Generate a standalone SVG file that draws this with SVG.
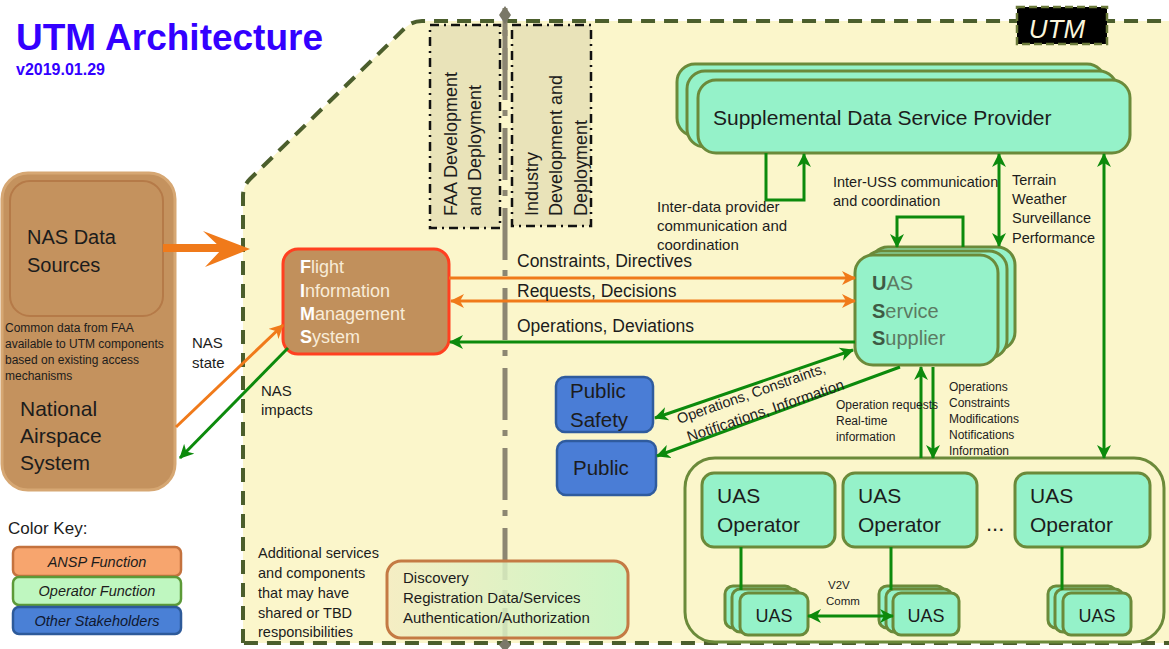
<svg xmlns="http://www.w3.org/2000/svg" width="1169" height="649" viewBox="0 0 1169 649">
<defs>
<style>
text { font-family: "Liberation Sans", Arial, sans-serif; fill: #1c1c1c; }
.g { stroke: #0c8a0c; stroke-width: 3; fill: none; }
.o { stroke: #f07a1a; stroke-width: 3; fill: none; }
.mint { fill: #95f2c9; stroke: #6b8a3a; stroke-width: 3; }
.blue { fill: #4a7dd6; stroke: #2f5b9e; stroke-width: 2.5; }
.col { fill: #e9e3b9; stroke: #111; stroke-width: 2.5; stroke-dasharray: 9 5 2 5; }
.key { font-style: italic; font-size: 14.5px; text-anchor: middle; }
.lbl { font-size: 15px; }
.sm { font-size: 12px; }
.big { font-size: 20px; }
</style>
<marker id="ag" viewBox="0 0 14 14" refX="13" refY="7" markerWidth="14" markerHeight="14" markerUnits="userSpaceOnUse" orient="auto-start-reverse"><path d="M0,0 L14,7 L0,14 L4,7 Z" fill="#0c8a0c"/></marker>
<marker id="ao" viewBox="0 0 14 14" refX="13" refY="7" markerWidth="14" markerHeight="14" markerUnits="userSpaceOnUse" orient="auto-start-reverse"><path d="M0,0 L14,7 L0,14 L4,7 Z" fill="#f07a1a"/></marker>
<linearGradient id="disc" x1="0" y1="0" x2="1" y2="0"><stop offset="0" stop-color="#f4ecc2"/><stop offset="1" stop-color="#c2f6c4"/></linearGradient>
</defs>
<rect x="0" y="0" width="1169" height="649" fill="#ffffff"/>

<g id="utm-region">
<path d="M243,643 L243,196 Q243,186 250,179 L406,27 Q413,21 422,21 L1185,21 L1185,643 Z" fill="#fbf6cb" stroke="#4b5e2c" stroke-width="4" stroke-dasharray="14 9"/>
</g>

<g id="title">
<text x="16" y="50" font-size="37" font-weight="bold" style="fill:#3300ff">UTM Architecture</text>
<text x="16" y="75" font-size="16" font-weight="bold" style="fill:#3300ff">v2019.01.29</text>
</g>

<g id="utm-label">
<rect x="1017" y="7" width="90" height="37" fill="#000" stroke="#6b7a3a" stroke-width="2.5" stroke-dasharray="8 4"/>
<text x="1057" y="38" font-size="26" font-style="italic" text-anchor="middle" style="fill:#fbf6dc">UTM</text>
</g>

<g id="faa-column">
<rect class="col" x="430" y="25" width="70" height="203"/>
<text transform="translate(457,216) rotate(-90)" font-size="18">FAA Development</text>
<text transform="translate(481,216) rotate(-90)" font-size="18">and Deployment</text>
</g>
<g id="industry-column">
<rect class="col" x="512" y="25" width="79" height="201"/>
<text transform="translate(538,216) rotate(-90)" font-size="18">Industry</text>
<text transform="translate(562,216) rotate(-90)" font-size="18">Development and</text>
<text transform="translate(587,216) rotate(-90)" font-size="18">Deployment</text>
</g>

<g id="divider">
<line x1="505" y1="8" x2="505" y2="649" stroke="#8c8672" stroke-width="5" stroke-dasharray="52 10 6 12" stroke-dashoffset="-40"/>
<line x1="505" y1="20" x2="505" y2="70" stroke="#8c8672" stroke-width="5"/>
<polygon points="505,6 511,15 505,24 499,15" fill="#7a7868"/>
<polygon points="505,638 511,645 505,652 499,645" fill="#7a7868"/>
</g>

<g id="nas">
<rect x="2" y="173" width="173" height="317" rx="26" fill="#c4925e" stroke="#d6a773" stroke-width="3"/>
<rect x="10" y="181" width="153" height="135" rx="20" fill="#c4925e" stroke="#b57a48" stroke-width="2"/>
<text x="27" y="244" class="big">NAS Data</text>
<text x="27" y="272" class="big">Sources</text>
<text x="5" y="332" class="sm">Common data from FAA</text>
<text x="5" y="348" class="sm">available to UTM components</text>
<text x="5" y="364" class="sm">based on existing access</text>
<text x="5" y="380" class="sm">mechanisms</text>
<text x="20" y="416" font-size="21">National</text>
<text x="20" y="443" font-size="21">Airspace</text>
<text x="20" y="470" font-size="21">System</text>
</g>

<g id="fims">
<rect x="283" y="249" width="166" height="105" rx="15" fill="#c1905c" stroke="#ff4020" stroke-width="3"/>
<text x="300" y="273" font-size="18" style="fill:#f8ecd8"><tspan font-weight="bold" style="fill:#fff">F</tspan>light</text>
<text x="300" y="297" font-size="18" style="fill:#f8ecd8"><tspan font-weight="bold" style="fill:#fff">I</tspan>nformation</text>
<text x="300" y="320" font-size="18" style="fill:#f8ecd8"><tspan font-weight="bold" style="fill:#fff">M</tspan>anagement</text>
<text x="300" y="343" font-size="18" style="fill:#f8ecd8"><tspan font-weight="bold" style="fill:#fff">S</tspan>ystem</text>
</g>

<g id="sdsp">
<rect class="mint" x="677" y="64" width="428" height="72" rx="18"/>
<rect class="mint" x="687" y="71" width="430" height="76" rx="18"/>
<rect class="mint" x="698" y="80" width="432" height="73" rx="18"/>
<text x="713" y="125" font-size="21">Supplemental Data Service Provider</text>
</g>

<g id="uss">
<rect class="mint" x="870" y="247" width="145" height="103" rx="18"/>
<rect class="mint" x="863" y="251" width="144" height="107" rx="18"/>
<rect class="mint" x="855" y="255" width="143" height="110" rx="18"/>
<text x="872" y="290" class="big" style="fill:#5c7a62"><tspan font-weight="bold" style="fill:#3e5a44">U</tspan>AS</text>
<text x="872" y="318" class="big" style="fill:#5c7a62"><tspan font-weight="bold" style="fill:#3e5a44">S</tspan>ervice</text>
<text x="872" y="345" class="big" style="fill:#5c7a62"><tspan font-weight="bold" style="fill:#3e5a44">S</tspan>upplier</text>
</g>

<g id="public-safety">
<rect class="blue" x="556" y="377" width="97" height="55" rx="9"/>
<text x="570" y="398" font-size="20.5">Public</text>
<text x="570" y="427" font-size="20.5">Safety</text>
</g>
<g id="public">
<rect class="blue" x="557" y="441" width="99" height="54" rx="9"/>
<text x="573" y="475" font-size="20.5">Public</text>
</g>

<g id="operators">
<rect x="685" y="458" width="479" height="184" rx="30" fill="none" stroke="#6b8a3a" stroke-width="3"/>
<g id="operator-1">
<rect class="mint" x="702" y="473" width="133" height="74" rx="12"/>
<text x="717" y="503" font-size="21">UAS</text>
<text x="717" y="532" font-size="21">Operator</text>
</g>
<g id="operator-2">
<rect class="mint" x="843" y="473" width="134" height="74" rx="12"/>
<text x="858" y="503" font-size="21">UAS</text>
<text x="858" y="532" font-size="21">Operator</text>
</g>
<text x="986" y="531" font-size="22">...</text>
<g id="operator-3">
<rect class="mint" x="1015" y="473" width="135" height="74" rx="12"/>
<text x="1030" y="503" font-size="21">UAS</text>
<text x="1030" y="532" font-size="21">Operator</text>
</g>
<g id="uas-1">
<rect class="mint" x="725" y="586" width="68" height="42" rx="8"/>
<rect class="mint" x="732" y="589" width="68" height="43" rx="8"/>
<rect class="mint" x="740" y="593" width="68" height="42" rx="8"/>
<text x="774" y="622" font-size="18" text-anchor="middle">UAS</text>
</g>
<g id="uas-2">
<rect class="mint" x="879" y="586" width="66" height="42" rx="8"/>
<rect class="mint" x="886" y="589" width="66" height="43" rx="8"/>
<rect class="mint" x="893" y="593" width="66" height="42" rx="8"/>
<text x="926" y="622" font-size="18" text-anchor="middle">UAS</text>
</g>
<g id="uas-3">
<rect class="mint" x="1048" y="586" width="68" height="42" rx="8"/>
<rect class="mint" x="1055" y="589" width="68" height="43" rx="8"/>
<rect class="mint" x="1063" y="593" width="68" height="42" rx="8"/>
<text x="1097" y="622" font-size="18" text-anchor="middle">UAS</text>
</g>
</g>

<g id="shared-services">
<rect x="387" y="561" width="241" height="77" rx="14" fill="url(#disc)" fill-opacity="0.85" stroke="#c47a44" stroke-width="3"/>
<text x="403" y="583" class="lbl">Discovery</text>
<text x="403" y="603" class="lbl">Registration Data/Services</text>
<text x="403" y="623" class="lbl">Authentication/Authorization</text>
</g>

<g id="shared-note">
<text x="258" y="558" font-size="14.5">Additional services</text>
<text x="258" y="578" font-size="14.5">and components</text>
<text x="258" y="598" font-size="14.5">that may have</text>
<text x="258" y="618" font-size="14.5">shared or TBD</text>
<text x="258" y="637" font-size="14.5">responsibilities</text>
</g>

<g id="color-key">
<text x="8" y="534" font-size="17">Color Key:</text>
<rect x="13" y="547" width="168" height="29" rx="6" fill="#f7a56e" stroke="#c4723e" stroke-width="2.5"/>
<text x="97" y="567" class="key">ANSP Function</text>
<rect x="13" y="577" width="168" height="28" rx="6" fill="#bff7c0" stroke="#5c9a38" stroke-width="2.5"/>
<text x="97" y="596" class="key">Operator Function</text>
<rect x="13" y="607" width="168" height="27" rx="6" fill="#4a80d6" stroke="#2d5a9a" stroke-width="2.5"/>
<text x="97" y="626" class="key" style="fill:#101830">Other Stakeholders</text>
</g>

<g id="connectors">
<line x1="163" y1="248" x2="228" y2="248" stroke="#f07a1a" stroke-width="8"/>
<polygon points="250,249 203,231 222,249 205,267" fill="#f07a1a"/>
<line class="o" x1="176" y1="427" x2="283" y2="325" marker-end="url(#ao)"/>
<line class="g" x1="288" y1="348" x2="180" y2="458" marker-end="url(#ag)"/>
<line class="o" x1="449" y1="278" x2="855" y2="278" marker-end="url(#ao)"/>
<line class="o" x1="451" y1="301" x2="855" y2="301" marker-start="url(#ao)" marker-end="url(#ao)"/>
<line class="g" x1="855" y1="342" x2="450" y2="342" marker-end="url(#ag)"/>
<polyline class="g" points="766,153 766,200 804,200 804,154" marker-end="url(#ag)"/>
<polyline class="g" points="963,247 963,217 897,217 897,247" marker-end="url(#ag)"/>
<line class="g" x1="999" y1="154" x2="999" y2="246" marker-start="url(#ag)" marker-end="url(#ag)"/>
<line class="g" x1="1104" y1="154" x2="1104" y2="458" marker-start="url(#ag)" marker-end="url(#ag)"/>
<line class="g" x1="853" y1="350" x2="655" y2="418" marker-start="url(#ag)" marker-end="url(#ag)"/>
<line class="g" x1="900" y1="367" x2="657" y2="456" marker-end="url(#ag)"/>
<line class="g" x1="921" y1="458" x2="921" y2="367" marker-end="url(#ag)"/>
<line class="g" x1="933" y1="367" x2="933" y2="458" marker-end="url(#ag)"/>
<line class="g" x1="741" y1="547" x2="741" y2="590"/>
<line class="g" x1="891" y1="547" x2="891" y2="590"/>
<line class="g" x1="1062" y1="547" x2="1062" y2="590"/>
<line class="g" x1="808" y1="616" x2="893" y2="616" marker-start="url(#ag)" marker-end="url(#ag)"/>
</g>

<g id="connector-labels">
<text x="192" y="348" class="lbl">NAS</text>
<text x="192" y="368" class="lbl">state</text>
<text x="261" y="396" class="lbl">NAS</text>
<text x="261" y="415" class="lbl">impacts</text>
<text x="517" y="267" font-size="17.5">Constraints, Directives</text>
<text x="517" y="297" font-size="17.5">Requests, Decisions</text>
<text x="517" y="332" font-size="17.5">Operations, Deviations</text>
<text x="657" y="212" class="lbl">Inter-data provider</text>
<text x="657" y="231" class="lbl">communication and</text>
<text x="657" y="250" class="lbl">coordination</text>
<text x="833" y="187" font-size="14.5">Inter-USS communication</text>
<text x="833" y="206" font-size="14.5">and coordination</text>
<text x="1012" y="185" font-size="14.5">Terrain</text>
<text x="1012" y="204" font-size="14.5">Weather</text>
<text x="1012" y="223" font-size="14.5">Surveillance</text>
<text x="1012" y="243" font-size="14.5">Performance</text>
<text transform="translate(679,424) rotate(-19.3)" font-size="14.5">Operations, Constraints,</text>
<text transform="translate(689,442) rotate(-18.8)" font-size="15">Notifications, Information</text>
<text x="836" y="409" class="sm">Operation requests</text>
<text x="836" y="425" class="sm">Real-time</text>
<text x="836" y="441" class="sm">information</text>
<text x="949" y="391" class="sm">Operations</text>
<text x="949" y="407" class="sm">Constraints</text>
<text x="949" y="423" class="sm">Modifications</text>
<text x="949" y="439" class="sm">Notifications</text>
<text x="949" y="455" class="sm">Information</text>
<text x="828" y="589" font-size="11.5">V2V</text>
<text x="826" y="605" font-size="11.5">Comm</text>
</g>
</svg>
